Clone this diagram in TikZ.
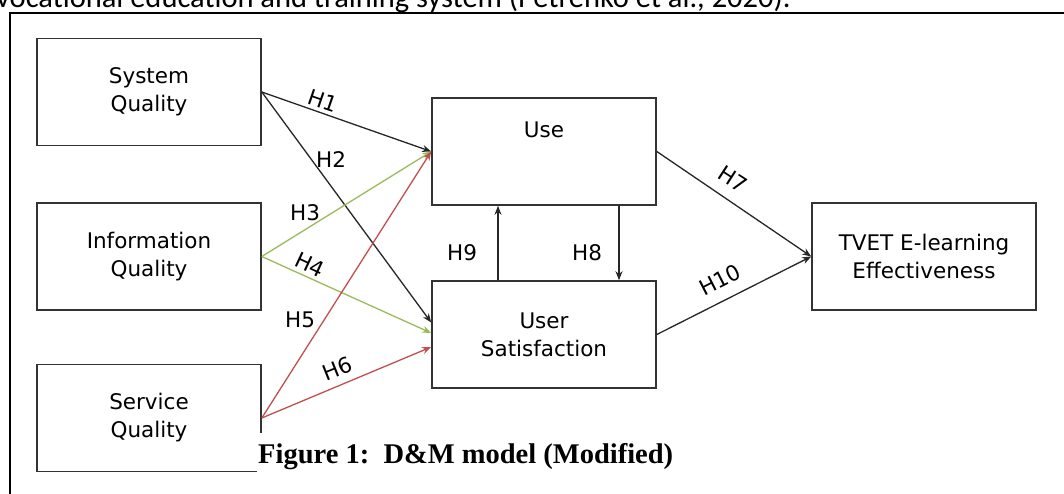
\documentclass[tikz,border=0pt]{standalone}
\usepackage{fontspec}
\setmainfont{DejaVu Sans}
\newfontfamily\capfont{Liberation Serif}
\newfontfamily\topfont{Carlito}
\usetikzlibrary{arrows.meta}
\definecolor{hgreen}{HTML}{9BBB59}
\definecolor{hred}{HTML}{C0504D}
\definecolor{boxline}{HTML}{333333}
\tikzset{
  box/.style={draw=boxline, line width=1.6pt, rectangle, minimum width=224pt, minimum height=107pt,
    inner sep=0pt, align=center, font=\fontsize{21.5}{28}\selectfont},
  conn/.style={line width=1.3pt, -{Stealth[length=9pt,width=7pt]}},
  blk/.style={conn, draw=black!85},
  grn/.style={conn, draw=hgreen},
  rd/.style={conn, draw=hred},
  hlab/.style={font=\fontsize{21.5}{24}\selectfont, inner sep=0pt}
}
\begin{document}
\begin{tikzpicture}[x=1pt,y=-1pt]
\useasboundingbox (0,0) rectangle (1064,493);
\clip (0,0) rectangle (1064,493);
% partial text line at top
\node[anchor=base west, inner sep=0pt, font=\topfont\fontsize{30.5}{32}\selectfont] (toptext) at (-4,7)
  {vocational education and training system (Petrenko et al., 2020).};
% frame
\draw[line width=2pt, black] (10,500) -- (10,13) -- (1070,13);
% boxes
\node[box] (sq) at (149,92) {System\\Quality};
\node[box] (iq) at (149,256.5) {Information\\Quality};
\node[box] (svq) at (149,418) {Service\\Quality};
\node[box, text height=16pt, text depth=44pt] (use) at (544,151.5) {Use};
\node[box] (us) at (544,334.5) {User\\Satisfaction};
\node[box] (tv) at (924,256.5) {TVET E-learning\\Effectiveness};
% connectors
\draw[blk] (sq.east) -- (use.west);
\draw[blk] (sq.east) -- ([yshift=12pt]us.west);
\draw[grn] (iq.east) -- (use.west);
\draw[grn] (iq.east) -- ([yshift=1.5pt]us.west);
\draw[rd] (svq.east) -- (use.west);
\draw[rd] (svq.east) -- ([yshift=-12.5pt]us.west);
\draw[blk] (use.east) -- (tv.west);
\draw[blk] (us.east) -- (tv.west);
\draw[blk] ([xshift=-46pt]us.north) -- ([xshift=-46pt]use.south);
\draw[blk] ([xshift=75pt]use.south) -- ([xshift=75pt]us.north);
% labels
\node[hlab, rotate=-19] (h1) at (323,101) {H1};
\node[hlab] (h2) at (331,160) {H2};
\node[hlab] (h3) at (305,213) {H3};
\node[hlab, rotate=-25] (h4) at (310,265) {H4};
\node[hlab] (h5) at (300,320) {H5};
\node[hlab, rotate=22] (h6) at (337,369) {H6};
\node[hlab, rotate=-33] (h7) at (733,179) {H7};
\node[hlab] (h8) at (587,253) {H8};
\node[hlab] (h9) at (462,253) {H9};
\node[hlab, rotate=27] (h10) at (720,280) {H10};
% caption
\node[anchor=north west, fill=white, inner xsep=1pt, inner ysep=6pt, text height=24pt, text depth=10pt,
  font=\capfont\bfseries\fontsize{28.5}{30}\selectfont] (cap) at (257,433) {Figure 1:\ \ D\&M model (Modified)};
\end{tikzpicture}
\end{document}
